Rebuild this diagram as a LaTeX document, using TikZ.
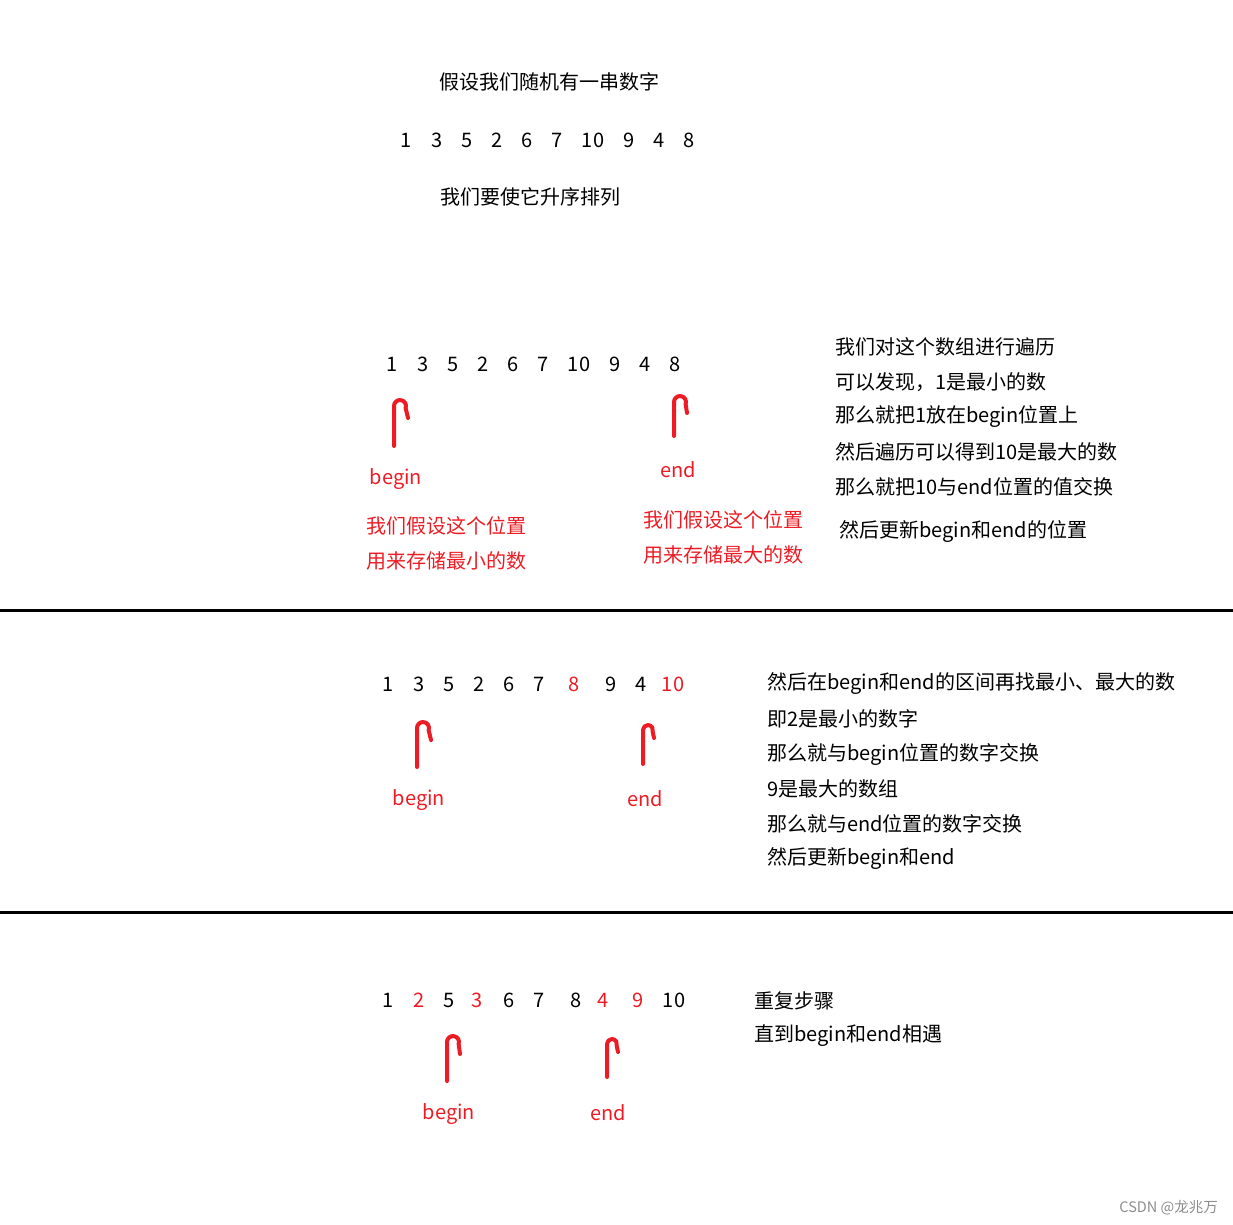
\documentclass[tikz,border=0pt]{standalone}
\usepackage{fontspec}
\setmainfont{Noto Sans CJK SC}
\definecolor{pred}{RGB}{237,28,36}

\begin{document}
\begin{tikzpicture}[x=1pt, y=-1pt,
    txt/.style = {anchor=west, inner sep=0pt, font=\fontsize{20}{24}\selectfont},
    digit/.style = {inner sep=0pt, font=\fontsize{20}{24}\selectfont},
    redlbl/.style = {inner sep=0pt, text=pred, font=\fontsize{20}{24}\selectfont},
    uparr/.style = {draw=pred, line width=4pt, line cap=round, line join=round}]
    \useasboundingbox (0,0) rectangle (1233,1224);

    % top
    \node (intro) [txt] at (439,82) {假设我们随机有一串数字};
    \foreach \v/\x [count=\i] in {1/406,3/437,5/467,2/497,6/527,7/557,10/593,9/629,4/659,8/689}
    {
      \node (a\i) [digit] at (\x,140) {\v};
    }
    \node (goal) [txt] at (440,197) {我们要使它升序排列};

    % step 1
    \foreach \v/\x [count=\i] in {1/392,3/423,5/453,2/483,6/513,7/543,10/579,9/615,4/645,8/675}
    {
      \node (b\i) [digit] at (\x,364) {\v};
    }
    \node (bbeg) [redlbl] at (396,479) {begin};
    \node (bend) [redlbl] at (678,470) {end};
    \coordinate (bbeg0) at (394,446);
    \coordinate (bbeg1) at (394,406);
    \coordinate (bbeg2) at (408,418);
    \coordinate (bend0) at (674,436);
    \coordinate (bend1) at (674,402);
    \coordinate (bend2) at (687,413);
    \draw [uparr] (bbeg0) -- (bbeg1) arc[start angle=180, end angle=380, radius=6] -- (bbeg2);
    \draw [uparr] (bend0) -- (bend1) arc[start angle=180, end angle=380, radius=6] -- (bend2);
    \node (bmin1) [txt, text=pred] at (366,526) {我们假设这个位置};
    \node (bmin2) [txt, text=pred] at (366,561) {用来存储最小的数};
    \node (bmax1) [txt, text=pred] at (643,520) {我们假设这个位置};
    \node (bmax2) [txt, text=pred] at (643,555) {用来存储最大的数};
    \foreach \t [count=\i] in {我们对这个数组进行遍历, 可以发现，1是最小的数, 那么就把1放在begin位置上, 然后遍历可以得到10是最大的数, 那么就把10与end位置的值交换}
    {
      \node (bn\i) [txt] at (835,312+35*\i) {\t};
    }
    \node (bn6) [txt] at (839,532) {然后更新begin和end的位置};

    \draw [line width=3pt] (0,610) -- (1233,610);

    % step 2
    \foreach \v/\x/\c [count=\i] in {1/388/black,3/419/black,5/449/black,2/479/black,6/509/black,7/539/black,8/574/pred,9/611/black,4/641/black,10/673/pred}
    {
      \node (c\i) [digit, text=\c] at (\x,684) {\v};
    }
    \node (cbeg) [redlbl] at (419,800) {begin};
    \node (cend) [redlbl] at (645,799) {end};
    \coordinate (cbeg0) at (417,767);
    \coordinate (cbeg1) at (417,728);
    \coordinate (cbeg2) at (431,740);
    \coordinate (cend0) at (643,764);
    \coordinate (cend1) at (643,730);
    \coordinate (cend2) at (654,738);
    \draw [uparr] (cbeg0) -- (cbeg1) arc[start angle=180, end angle=380, radius=6] -- (cbeg2);
    \draw [uparr] (cend0) -- (cend1) arc[start angle=180, end angle=380, radius=5] -- (cend2);
    \foreach \t [count=\i] in {然后在begin和end的区间再找最小、最大的数, 即2是最小的数字, 那么就与begin位置的数字交换, 9是最大的数组, 那么就与end位置的数字交换, 然后更新begin和end}
    {
      \node (cn\i) [txt] at (767,649+35*\i) {\t};
    }

    \draw [line width=3pt] (0,912) -- (1233,912);

    % step 3
    \foreach \v/\x/\c [count=\i] in {1/388/black,2/419/pred,5/449/black,3/477/pred,6/509/black,7/539/black,8/576/black,4/603/pred,9/638/pred,10/674/black}
    {
      \node (d\i) [digit, text=\c] at (\x,1000) {\v};
    }
    \node (dbeg) [redlbl] at (449,1114) {begin};
    \node (dend) [redlbl] at (608,1113) {end};
    \coordinate (dbeg0) at (447,1081);
    \coordinate (dbeg1) at (447,1042);
    \coordinate (dbeg2) at (460,1054);
    \coordinate (dend0) at (607,1077);
    \coordinate (dend1) at (607,1044);
    \coordinate (dend2) at (618,1052);
    \draw [uparr] (dbeg0) -- (dbeg1) arc[start angle=180, end angle=380, radius=6] -- (dbeg2);
    \draw [uparr] (dend0) -- (dend1) arc[start angle=180, end angle=380, radius=5] -- (dend2);
    \node (dn1) [txt] at (754,1001) {重复步骤};
    \node (dn2) [txt] at (754,1036) {直到begin和end相遇};

    \node (mark) [anchor=east, inner sep=0pt, text=black!45, font=\fontsize{14.5}{16}\selectfont] at (1218,1208) {CSDN @龙兆万};
  \end{tikzpicture}
\end{document}
